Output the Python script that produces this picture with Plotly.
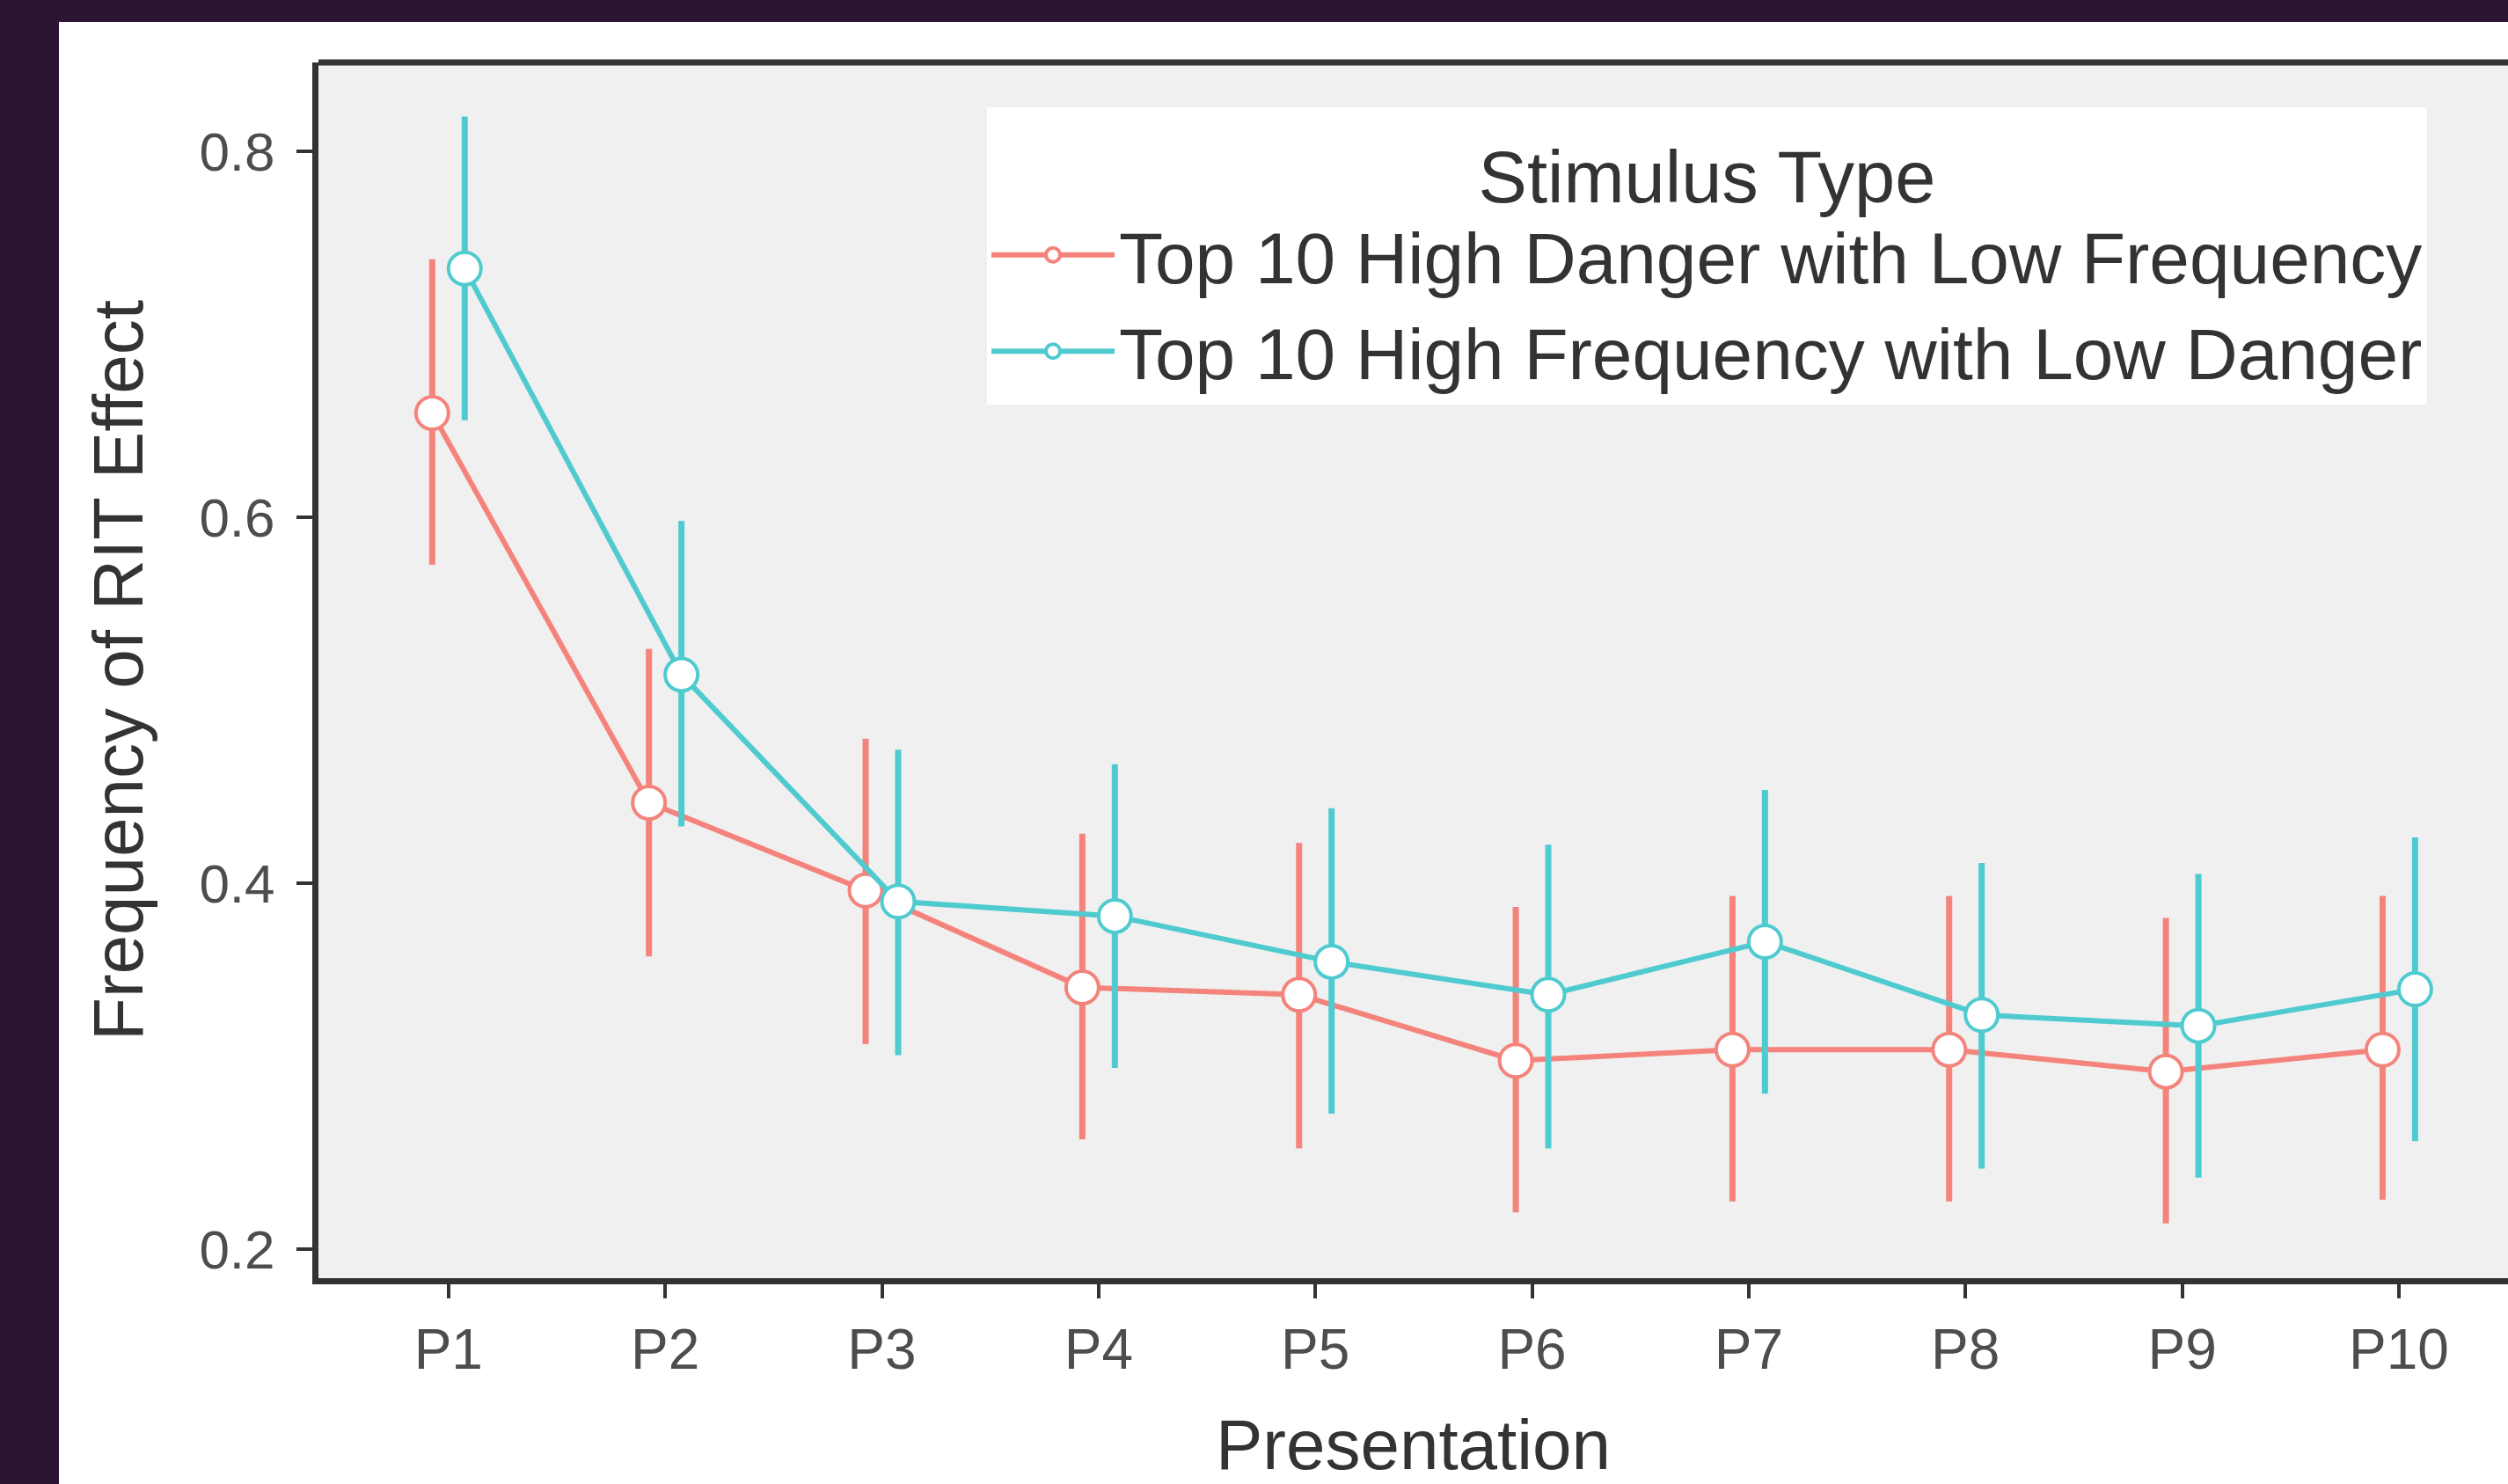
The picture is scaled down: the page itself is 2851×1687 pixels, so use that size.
import plotly.graph_objects as go

# ---------------- data ----------------
categories = ["P1", "P2", "P3", "P4", "P5", "P6", "P7", "P8", "P9", "P10"]
series_names = ["Top 10 High Danger with Low Frequency",
                "Top 10 High Frequency with Low Danger"]

danger_mean = [0.657, 0.444, 0.396, 0.343, 0.339, 0.303, 0.309, 0.309, 0.297, 0.309]
danger_low = [0.574, 0.360, 0.312, 0.260, 0.255, 0.220, 0.226, 0.226, 0.214, 0.227]
danger_high = [0.741, 0.528, 0.479, 0.427, 0.422, 0.387, 0.393, 0.393, 0.381, 0.393]

freq_mean = [0.736, 0.514, 0.390, 0.382, 0.357, 0.339, 0.368, 0.328, 0.322, 0.342]
freq_low = [0.653, 0.431, 0.306, 0.299, 0.274, 0.255, 0.285, 0.244, 0.239, 0.259]
freq_high = [0.819, 0.598, 0.473, 0.465, 0.441, 0.421, 0.451, 0.411, 0.405, 0.425]

y_ticks = [0.2, 0.4, 0.6, 0.8]
y_ticklabels = ["0.2", "0.4", "0.6", "0.8"]

# ---------------- style ----------------
RED = "#F4837B"
TEAL = "#4FCBD0"
DODGE = 0.075
FONT = "Liberation Sans, Arial, sans-serif"

W, H = 2851, 1687
L, R, T, B = 362, 0, 71, 234

pos = list(range(1, len(categories) + 1))

fig = go.Figure()


def add_series(name, mean, low, high, color, offset):
    x = [p + offset for p in pos]
    fig.add_trace(go.Scatter(
        x=x, y=mean, name=name, mode="lines+markers",
        line=dict(color=color, width=6),
        marker=dict(symbol="circle", size=37, color="white",
                    line=dict(color=color, width=4)),
        error_y=dict(type="data", symmetric=False,
                     array=[h - m for h, m in zip(high, mean)],
                     arrayminus=[m - l for m, l in zip(mean, low)],
                     color=color, thickness=7, width=0),
    ))


add_series(series_names[0], danger_mean, danger_low, danger_high, RED, -DODGE)
add_series(series_names[1], freq_mean, freq_low, freq_high, TEAL, DODGE)

plot_w = W - L - R
plot_h = H - T - B


def px_x(px):
    return (px - L) / plot_w


def px_y(py):
    return (H - B - py) / plot_h


PURPLE = "#2B1533"
shapes = [
    # dark frame around the white panel
    dict(type="rect", xref="paper", yref="paper", x0=-1, x1=px_x(67),
         y0=-1, y1=2, fillcolor=PURPLE, line=dict(width=0), layer="below"),
    dict(type="rect", xref="paper", yref="paper", x0=-1, x1=2,
         y0=px_y(25), y1=2, fillcolor=PURPLE, line=dict(width=0), layer="below"),
    # top border of the panel
    dict(type="line", xref="paper", yref="paper", x0=0, x1=1, y0=1, y1=1,
         line=dict(color="#333333", width=7)),
]

fig.update_layout(
    width=W, height=H,
    margin=dict(l=L, r=R, t=T, b=B, pad=0),
    paper_bgcolor="white",
    plot_bgcolor="#F0F0F0",
    font=dict(family=FONT, color="#333333"),
    shapes=shapes,
    showlegend=True,
    legend=dict(
        x=px_x(1122), y=px_y(122), xanchor="left", yanchor="top",
        bgcolor="white", borderwidth=0,
        font=dict(size=82, color="#333333", family=FONT),
        title=dict(text="Stimulus Type", side="top center",
                   font=dict(size=83, color="#333333", family=FONT)),
        itemsizing="trace", itemwidth=140,
        tracegroupgap=0,
    ),
)

fig.update_xaxes(
    range=[0.4, 10 + (W - 2727) / 246.2],
    tickmode="array", tickvals=pos, ticktext=categories,
    showgrid=False, zeroline=False,
    showline=True, linecolor="#333333", linewidth=7, mirror=False,
    ticks="outside", ticklen=16, tickwidth=4, tickcolor="#333333",
    ticklabelstandoff=3,
    tickfont=dict(size=64, color="#4D4D4D", family=FONT),
    title=dict(text="Presentation", font=dict(size=80, color="#333333", family=FONT),
               standoff=52),
)

fig.update_yaxes(
    range=[0.1841, 0.8486],
    tickmode="array", tickvals=y_ticks, ticktext=y_ticklabels,
    showgrid=False, zeroline=False,
    showline=True, linecolor="#333333", linewidth=7, mirror=False,
    ticks="outside", ticklen=18, tickwidth=4, tickcolor="#333333",
    ticklabelstandoff=12,
    tickfont=dict(size=62, color="#4D4D4D", family=FONT),
    title=dict(text="Frequency of RIT Effect",
               font=dict(size=80, color="#333333", family=FONT), standoff=40),
)

fig.write_html(
    "out.html",
    config={"displayModeBar": False},
    post_script="document.body.style.margin='0';document.body.style.overflow='hidden';",
)
